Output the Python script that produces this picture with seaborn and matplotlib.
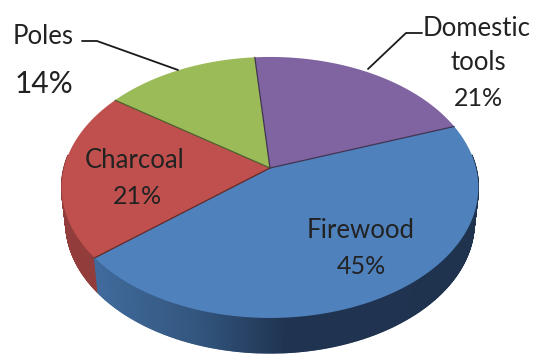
import numpy as np
import matplotlib
matplotlib.use("Agg")
import matplotlib.pyplot as plt
import matplotlib.colors as mcolors
import seaborn as sns

# Wood product shares, listed counter-clockwise from the start angle
categories = ["Domestic tools", "Poles", "Charcoal", "Firewood"]
shares = [21, 14, 21, 45]
top_colors = ["#8064a2", "#9bbb59", "#c0504d", "#4f81bd"]
spoke_colors = ["#8064a2", "#8064a2", "#9bbb59", "#c0504d"]

sns.set_theme(style="white")
plt.rcParams["font.family"] = ["Lato", "DejaVu Sans"]

START_ANGLE = 20.0
CX, APEX_Y = 270.0, 168.0     # pie centre on the canvas
RX, RY = 206.0, 127.6         # foreshortened radii
TILT = 0.149                  # perspective strength
DEPTH = 35.0                  # height of the extruded rim
BASE_SCALE = 0.98             # lower rim recedes slightly


def project(theta_deg):
    """Map a rim angle (or array of angles) onto the tilted disc."""
    t = np.radians(theta_deg)
    w = 1 + TILT * np.sin(t)
    return CX + RX * np.cos(t) / w, APEX_Y - RY * np.sin(t) / w


fig = plt.figure(figsize=(5.36, 3.54), dpi=100)
ax = fig.add_axes([0, 0, 1, 1])
ax.set_xlim(0, 536)
ax.set_ylim(354, 0)
ax.axis("off")

edges = START_ANGLE + np.concatenate([[0], np.cumsum(shares)]) * 360 / np.sum(shares)

# Rim shading for the front of the disc: light on the left, dark on the right
blue_stops = [(100, (64, 106, 155)), (200, (50, 85, 125)), (285, (32, 52, 82)), (540, (31, 50, 77))]


def rim_color(base, x):
    if base == "#4f81bd":
        xs = [s[0] for s in blue_stops]
        return tuple(np.interp(x, xs, [s[1][i] for s in blue_stops]) / 255 for i in range(3))
    return tuple(np.array(mcolors.to_rgb(base)) * 0.76)


for color, a0, a1 in zip(top_colors, edges[:-1], edges[1:]):
    arc = np.linspace(a0, a1, int(abs(a1 - a0) * 3) + 2)
    xs, ys = project(arc)
    bx = CX + BASE_SCALE * (xs - CX)
    by = ys + DEPTH
    for i in range(len(arc) - 1):
        if np.sin(np.radians(arc[i])) > 0.1 and np.sin(np.radians(arc[i + 1])) > 0.1:
            continue
        c = rim_color(color, xs[i])
        ax.fill([xs[i], xs[i + 1], bx[i + 1], bx[i]],
                [ys[i], ys[i + 1], by[i + 1], by[i]],
                facecolor=c, edgecolor=c, lw=1.0, zorder=2)

for color, a0, a1 in zip(top_colors, edges[:-1], edges[1:]):
    arc = np.linspace(a0, a1, 200)
    xs, ys = project(arc)
    ax.fill(np.r_[CX, xs], np.r_[APEX_Y, ys], facecolor=color, edgecolor="none", zorder=3)

# Darker spoke along each slice boundary
for spoke, a0 in zip(spoke_colors, edges[:-1]):
    ex, ey = project(a0)
    ax.plot([CX, ex], [APEX_Y, ey], color=tuple(np.array(mcolors.to_rgb(spoke)) * 0.5),
            lw=0.9, zorder=4)

# Leader lines
ax.plot([82, 97, 178], [41, 41, 70], color="#1a1a1a", lw=1.3, zorder=5)
ax.plot([368, 406, 422], [69, 33, 33], color="#1a1a1a", lw=1.3, zorder=5)

text_kw = dict(ha="center", va="center", color="#222222", zorder=6)
ax.text(43, 37, "Poles", fontsize=18.5, **text_kw)
ax.text(44, 84, "14%", fontsize=21.5, **text_kw)
ax.text(477, 28, "Domestic", fontsize=18.5, **text_kw)
ax.text(478, 63, "tools", fontsize=18.5, **text_kw)
ax.text(478, 99, "21%", fontsize=18, **text_kw)
ax.text(135, 161, "Charcoal", fontsize=18.5, **text_kw)
ax.text(137, 197, "21%", fontsize=18, **text_kw)
ax.text(361, 230, "Firewood", fontsize=18.5, **text_kw)
ax.text(361, 266, "45%", fontsize=18, **text_kw)

fig.savefig("out.png", dpi=100)
